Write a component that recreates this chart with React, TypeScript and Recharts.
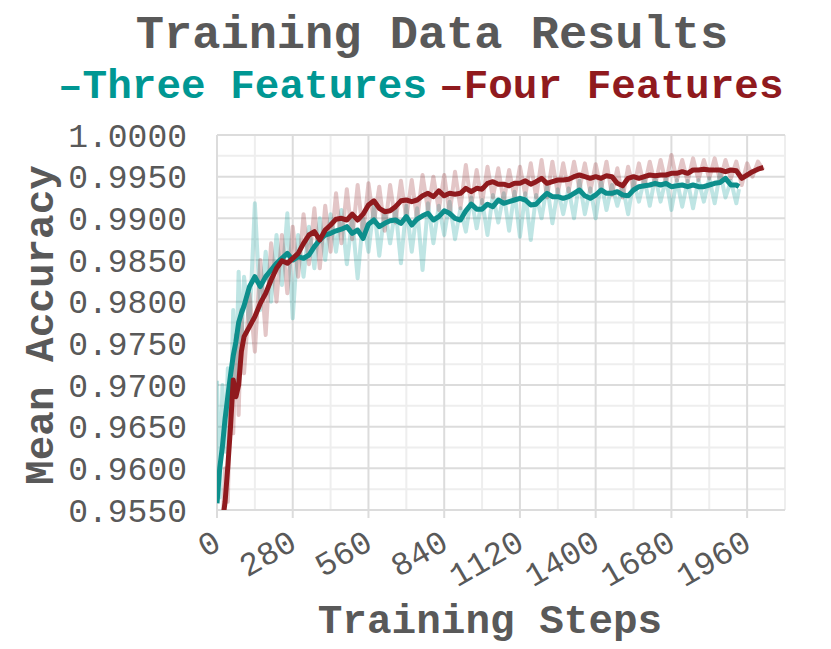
import { LineChart, Line, XAxis, YAxis, CartesianGrid } from 'recharts';

// x axis ticks (major) and minor grid positions
const majorX = [0, 280, 560, 840, 1120, 1400, 1680, 1960];
const minorX = [140, 420, 700, 980, 1260, 1540, 1820, 2100];
const majorY = [0.955, 0.96, 0.965, 0.97, 0.975, 0.98, 0.985, 0.99, 0.995, 1.0];
const minorY = [0.9575, 0.9625, 0.9675, 0.9725, 0.9775, 0.9825, 0.9875, 0.9925, 0.9975];

// Three Features
const tealSteps = [
  0, 10, 20, 30, 40, 50, 60, 70, 80, 90,
  100, 120, 140, 160, 180, 200, 220, 240, 260, 280,
  300, 320, 340, 360, 380, 400, 420, 440, 460, 480,
  500, 520, 540, 560, 580, 600, 620, 640, 660, 680,
  700, 720, 740, 760, 780, 800, 820, 840, 860, 880,
  900, 920, 940, 960, 980, 1000, 1020, 1040, 1060, 1080,
  1100, 1120, 1140, 1160, 1180, 1200, 1220, 1240, 1260, 1280,
  1300, 1320, 1340, 1360, 1380, 1400, 1420, 1440, 1460, 1480,
  1500, 1520, 1540, 1560, 1580, 1600, 1620, 1640, 1660, 1680,
  1700, 1720, 1740, 1760, 1780, 1800, 1820, 1840, 1860, 1880,
  1900, 1920, 1930,
];
const tealSmooth = [
  0.9558, 0.9600, 0.9626, 0.9660, 0.9686, 0.9712, 0.9735, 0.9752, 0.9775, 0.9786,
  0.9795, 0.9818, 0.9830, 0.9818, 0.9830, 0.9838, 0.9846, 0.9852, 0.9858, 0.9850,
  0.9854, 0.9852, 0.9856, 0.9866, 0.9874, 0.9880, 0.9882, 0.9885, 0.9887, 0.9890,
  0.9882, 0.9886, 0.9876, 0.9893, 0.9898, 0.9890, 0.9894, 0.9897, 0.9898, 0.9894,
  0.9902, 0.9892, 0.9899, 0.9903, 0.9906, 0.9898, 0.9902, 0.9909, 0.9906, 0.9900,
  0.9898, 0.9909, 0.9917, 0.9911, 0.9911, 0.9917, 0.9914, 0.9922, 0.9918, 0.9920,
  0.9922, 0.9924, 0.9922, 0.9916, 0.9917, 0.9924, 0.9930, 0.9926, 0.9926, 0.9924,
  0.9926, 0.9930, 0.9934, 0.9927, 0.9924, 0.9928, 0.9934, 0.9930, 0.9930, 0.9932,
  0.9928, 0.9927, 0.9934, 0.9938, 0.9939, 0.9940, 0.9942, 0.9940, 0.9942, 0.9938,
  0.9939, 0.9940, 0.9938, 0.9940, 0.9938, 0.9938, 0.9940, 0.9942, 0.9943, 0.9948,
  0.9940, 0.9940, 0.9938,
];
const tealRaw = [
  0.9705, 0.9565, 0.9700, 0.9620, 0.9720, 0.9660, 0.9790, 0.9700, 0.9836, 0.9740,
  0.9830, 0.9770, 0.9918, 0.9790, 0.9860, 0.9800, 0.9880, 0.9820, 0.9906, 0.9780,
  0.9880, 0.9830, 0.9890, 0.9840, 0.9900, 0.9850, 0.9905, 0.9860, 0.9910, 0.9845,
  0.9900, 0.9828, 0.9900, 0.9860, 0.9915, 0.9855, 0.9910, 0.9870, 0.9912, 0.9846,
  0.9915, 0.9860, 0.9912, 0.9838, 0.9918, 0.9870, 0.9915, 0.9880, 0.9920, 0.9875,
  0.9912, 0.9884, 0.9925, 0.9888, 0.9922, 0.9880, 0.9928, 0.9895, 0.9930, 0.9885,
  0.9932, 0.9878, 0.9930, 0.9874, 0.9928, 0.9900, 0.9940, 0.9894, 0.9935, 0.9905,
  0.9936, 0.9900, 0.9945, 0.9905, 0.9936, 0.9900, 0.9944, 0.9910, 0.9940, 0.9915,
  0.9938, 0.9905, 0.9945, 0.9920, 0.9948, 0.9915, 0.9950, 0.9920, 0.9948, 0.9910,
  0.9946, 0.9914, 0.9945, 0.9912, 0.9946, 0.9920, 0.9948, 0.9918, 0.9955, 0.9925,
  0.9945, 0.9918, 0.9935,
];

// Four Features
const redSteps = [
  20, 30, 40, 50, 60, 70, 80, 90, 100, 120,
  140, 160, 180, 200, 220, 240, 260, 280, 300, 320,
  340, 360, 380, 400, 420, 440, 460, 480, 500, 520,
  540, 560, 580, 600, 620, 640, 660, 680, 700, 720,
  740, 760, 780, 800, 820, 840, 860, 880, 900, 920,
  940, 960, 980, 1000, 1020, 1040, 1060, 1080, 1100, 1120,
  1140, 1160, 1180, 1200, 1220, 1240, 1260, 1280, 1300, 1320,
  1340, 1360, 1380, 1400, 1420, 1440, 1460, 1480, 1500, 1520,
  1540, 1560, 1580, 1600, 1620, 1640, 1660, 1680, 1700, 1720,
  1740, 1760, 1780, 1800, 1820, 1840, 1860, 1880, 1900, 1920,
  1940, 1960, 1980, 2000, 2020,
];
const redSmooth = [
  0.9535, 0.9560, 0.9602, 0.9650, 0.9706, 0.9686, 0.9700, 0.9740, 0.9758, 0.9770,
  0.9782, 0.9798, 0.9810, 0.9826, 0.9840, 0.9849, 0.9846, 0.9852, 0.9858, 0.9870,
  0.9880, 0.9884, 0.9874, 0.9886, 0.9892, 0.9899, 0.9900, 0.9898, 0.9905, 0.9898,
  0.9905, 0.9916, 0.9921, 0.9912, 0.9908, 0.9909, 0.9914, 0.9921, 0.9922, 0.9920,
  0.9922, 0.9927, 0.9930, 0.9926, 0.9933, 0.9927, 0.9930, 0.9929, 0.9930, 0.9936,
  0.9932, 0.9936, 0.9935, 0.9942, 0.9944, 0.9941, 0.9941, 0.9939, 0.9942, 0.9942,
  0.9945, 0.9941, 0.9944, 0.9948, 0.9942, 0.9944, 0.9946, 0.9946, 0.9947, 0.9950,
  0.9952, 0.9950, 0.9948, 0.9950, 0.9948, 0.9951, 0.9950, 0.9942, 0.9939, 0.9948,
  0.9950, 0.9948, 0.9950, 0.9952, 0.9951, 0.9952, 0.9952, 0.9954, 0.9954, 0.9956,
  0.9954, 0.9958, 0.9958, 0.9959, 0.9958, 0.9958, 0.9958, 0.9956, 0.9958, 0.9957,
  0.9948, 0.9952, 0.9956, 0.9959, 0.9961,
];
const redRaw = [
  0.9530, 0.9600, 0.9560, 0.9700, 0.9642, 0.9760, 0.9664, 0.9790, 0.9714, 0.9810,
  0.9740, 0.9850, 0.9760, 0.9870, 0.9800, 0.9880, 0.9810, 0.9890, 0.9830, 0.9905,
  0.9845, 0.9912, 0.9840, 0.9915, 0.9860, 0.9930, 0.9870, 0.9935, 0.9875, 0.9940,
  0.9880, 0.9942, 0.9895, 0.9938, 0.9885, 0.9940, 0.9895, 0.9945, 0.9900, 0.9946,
  0.9898, 0.9952, 0.9910, 0.9950, 0.9910, 0.9952, 0.9905, 0.9956, 0.9912, 0.9964,
  0.9915, 0.9958, 0.9918, 0.9962, 0.9925, 0.9960, 0.9920, 0.9958, 0.9925, 0.9962,
  0.9928, 0.9966, 0.9925, 0.9970, 0.9925, 0.9968, 0.9930, 0.9966, 0.9932, 0.9968,
  0.9935, 0.9966, 0.9932, 0.9965, 0.9935, 0.9968, 0.9928, 0.9960, 0.9925, 0.9962,
  0.9935, 0.9966, 0.9938, 0.9968, 0.9940, 0.9970, 0.9942, 0.9976, 0.9945, 0.9970,
  0.9944, 0.9972, 0.9946, 0.9970, 0.9948, 0.9972, 0.9945, 0.9970, 0.9948, 0.9968,
  0.9940, 0.9966, 0.9950, 0.9968, 0.9958,
];

const TEAL = '#009793';
const TEAL_LINE = '#0d8f8c';
const RED = '#901a1e';
const GREY = '#595959';
const MONO = '"Liberation Mono", "Courier New", monospace';

const tealData = tealSteps.map((step, i) => ({ step, smooth: tealSmooth[i], raw: tealRaw[i] }));
const redData = redSteps.map((step, i) => ({ step, smooth: redSmooth[i], raw: redRaw[i] }));

function XTick(props: any) {
  const { x, y, payload } = props;
  const ax = x + 6;
  const ay = y + 28;
  return (
    <text
      x={ax}
      y={ay}
      transform={`rotate(-30 ${ax} ${ay})`}
      textAnchor="end"
      fontFamily={MONO}
      fontSize={33}
      fill={GREY}
    >
      {payload.value}
    </text>
  );
}

export default function App() {
  return (
    <div style={{ position: 'absolute', left: 0, top: 0, width: 831, height: 649, background: '#fff', fontFamily: MONO }}>
      <div style={{ position: 'absolute', left: 0, top: 8, width: 864, textAlign: 'center', fontSize: 47, fontWeight: 700, color: GREY, lineHeight: '56px', whiteSpace: 'pre' }}>
        Training Data Results
      </div>
      <div style={{ position: 'absolute', left: 58, top: 62, fontSize: 41, fontWeight: 700, lineHeight: '50px', whiteSpace: 'pre' }}>
        <span style={{ color: TEAL }}>–Three Features</span>
        <span style={{ color: RED, marginLeft: 12 }}>–Four Features</span>
      </div>
      <div
        style={{
          position: 'absolute', left: 42, top: 325, transform: 'translate(-50%, -50%) rotate(-90deg)',
          fontSize: 41, fontWeight: 700, color: GREY, lineHeight: '46px', whiteSpace: 'pre',
        }}
      >
        Mean Accuracy
      </div>
      <div style={{ position: 'absolute', left: 490, top: 622, transform: 'translate(-50%, -50%)', fontSize: 41, fontWeight: 700, color: GREY, lineHeight: '46px', whiteSpace: 'pre' }}>
        Training Steps
      </div>
      <div style={{ position: 'absolute', left: 0, top: 0 }}>
        <LineChart width={831} height={649} margin={{ top: 135, right: 46, bottom: 109, left: 0 }}>
          <CartesianGrid verticalValues={minorX} horizontalValues={minorY} stroke="#eeeeee" strokeWidth={2} />
          <CartesianGrid verticalValues={majorX} horizontalValues={majorY} stroke="#dcdcdc" strokeWidth={2} />
          <XAxis
            type="number"
            dataKey="step"
            domain={[0, 2100]}
            ticks={majorX}
            allowDataOverflow
            height={30}
            axisLine={false}
            tickLine={{ stroke: '#dcdcdc', strokeWidth: 2 }}
            tickSize={8}
            tick={<XTick />}
            interval={0}
          />
          <YAxis
            type="number"
            domain={[0.955, 1.0]}
            ticks={majorY}
            allowDataOverflow
            width={217}
            axisLine={false}
            tickLine={false}
            tickSize={0}
            tickMargin={30}
            interval={0}
            tickFormatter={(v: number) => v.toFixed(4)}
            tick={{ fontFamily: MONO, fontSize: 33, fill: GREY }}
          />
          <Line data={tealData} dataKey="raw" stroke={TEAL} strokeOpacity={0.25} strokeWidth={4} dot={false} isAnimationActive={false} strokeLinejoin="round" />
          <Line data={redData} dataKey="raw" stroke={RED} strokeOpacity={0.25} strokeWidth={4} dot={false} isAnimationActive={false} strokeLinejoin="round" />
          <Line data={tealData} dataKey="smooth" stroke={TEAL_LINE} strokeWidth={5} dot={false} isAnimationActive={false} strokeLinejoin="round" />
          <Line data={redData} dataKey="smooth" stroke={RED} strokeWidth={5} dot={false} isAnimationActive={false} strokeLinejoin="round" />
        </LineChart>
      </div>
    </div>
  );
}
